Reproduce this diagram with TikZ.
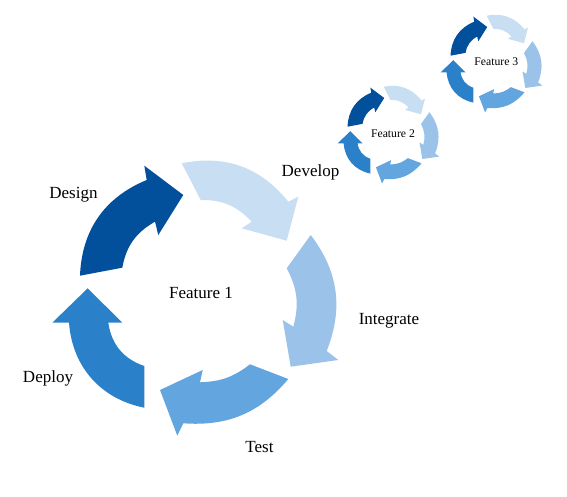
\documentclass[tikz,border=0pt]{standalone}
\usepackage{fontspec}
\setmainfont{Liberation Serif}
\definecolor{cDesign}{HTML}{02509B}
\definecolor{cDevelop}{HTML}{C8DEF3}
\definecolor{cIntegrate}{HTML}{9BC3EA}
\definecolor{cTest}{HTML}{63A5DF}
\definecolor{cDeploy}{HTML}{2B80CA}
\tikzset{
  lbl/.style={anchor=base, font=\fontsize{17}{20}\selectfont, inner sep=0pt, text=black},
  flbl/.style={anchor=base, font=\fontsize{11.7}{14}\selectfont, inner sep=0pt, text=black}
}
\newcommand\myring{%
  \fill[cDesign] (80,220.3) to[bend left=32.7] (146.7,316) -- (144.3,330.3) -- (183.3,301)
    -- (158.3,261) -- (155,274.3) to[bend right=25] (122.3,228.3) -- cycle;
  \fill[cDevelop] (181.7,332.7) to[bend left=31.4] (288.3,294.3) -- (298.3,299.3) -- (286.7,255.3)
    -- (241.7,267.7) -- (251.7,274.3) to[bend right=23.7] (200.7,296) -- cycle;
  \fill[cIntegrate] (310.7,261) to[bend left=29.5] (326.7,145) -- (338.3,136) -- (290.7,129.3)
    -- (282.7,176) -- (293.3,169.3) to[bend right=21.6] (286.7,227.7) -- cycle;
  \fill[cTest] (288.3,117) to[bend left=27] (183.3,72.7) -- (177.3,60.3) -- (160,106)
    -- (202.7,126) -- (200,113.7) to[bend right=17.9] (250,131.7) -- cycle;
  \fill[cDeploy] (144.3,88.3) to[bend left=37.2] (69,173.3) -- (52.3,173.3) -- (87.7,207.7)
    -- (122.3,173.3) -- (108.3,173.3) to[bend right=31.4] (144.3,130) -- cycle;
}
\begin{document}
\begin{tikzpicture}[x=1pt,y=1pt]
\useasboundingbox (0,0) rectangle (567,496);
\myring
\begin{scope}[shift={(390.5,363)}, scale=0.355, shift={(-201,-202.5)}]
  \myring
\end{scope}
\begin{scope}[shift={(493.5,434)}, scale=0.355, shift={(-201,-202.5)}]
  \myring
\end{scope}
\node[lbl] (design) at (73.5,297.7) {Design};
\node[lbl] (develop) at (310.5,319.3) {Develop};
\node[lbl] (integrate) at (389,172) {Integrate};
\node[lbl] (test) at (259.5,43.3) {Test};
\node[lbl] (deploy) at (48,114) {Deploy};
\node[lbl] (f1) at (201,197.7) {Feature 1};
\node[flbl] (f2) at (393,358.3) {Feature 2};
\node[flbl] (f3) at (496.3,430) {Feature 3};
\end{tikzpicture}
\end{document}
